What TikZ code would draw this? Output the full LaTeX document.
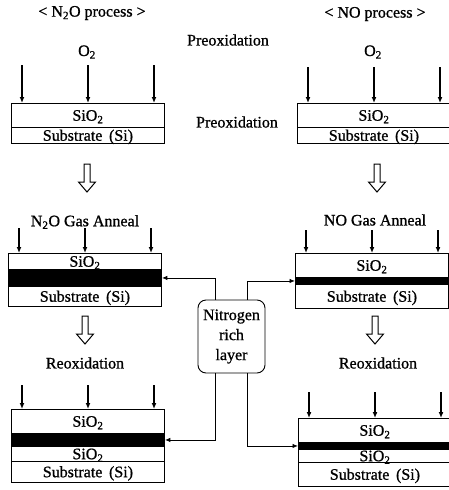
\documentclass[tikz,border=0pt]{standalone}
\usepackage{fontspec}
\setmainfont{Liberation Serif}[BoldFont=Liberation Serif, BoldFeatures={FakeBold=0.9}]
\usetikzlibrary{positioning,arrows.meta}
\tikzset{
  layer/.style={draw, line width=0.9pt, anchor=north west, inner sep=0pt, minimum width=153pt, text height=10.5pt, text depth=0pt, align=center},
  nband/.style={layer, fill=black},
  gasarrow/.style={-{Latex[length=6pt,width=5pt]}, line width=1.3pt},
  nlink/.style={-{Latex[length=5.5pt,width=4.5pt]}, line width=0.9pt},
  richbox/.style={draw, line width=0.9pt, rounded corners=8pt, minimum width=67pt, minimum height=73pt, align=center, inner sep=1pt},
  hollowarrow/.pic={\draw[line width=1pt, line join=miter] (-3,0) -- (-3,18) -- (-8.5,18) -- (0,28) -- (8.5,18) -- (3,18) -- (3,0) -- cycle;}
}

\begin{document}
\begin{tikzpicture}[x=1pt, y=-1pt, every node/.style={font=\fontsize{16}{20}\selectfont\bfseries}]
  \useasboundingbox (0,0) rectangle (449,490);
  % titles
  \node (titleL) at (92,13) {< N\textsubscript{2}O process >};
  \node (titleR) at (375,14) {< NO process >};
  \node (preox1) at (228,40) {Preoxidation};
  \node (preox2) at (237,122) {Preoxidation};
  \node (o2L) at (87,52) {O\textsubscript{2}};
  \node (o2R) at (373,52) {O\textsubscript{2}};

  % preoxidation stacks
  \node[layer, minimum height=24pt] (topL-ox) at (11,103) {SiO\textsubscript{2}};
  \node[layer, minimum height=16pt] (topL-sub) at (11,127) {Substrate\, (Si)};
  \node[layer, minimum height=24pt] (topR-ox) at (297,103) {SiO\textsubscript{2}};
  \node[layer, minimum height=16pt] (topR-sub) at (297,127) {Substrate\, (Si)};

  \pic (downL1) at (87,164) {hollowarrow};
  \pic (downR1) at (377,164) {hollowarrow};

  % gas anneal
  \node (annealL) at (85,222) {N\textsubscript{2}O Gas Anneal};
  \node (annealR) at (375,220) {NO Gas Anneal};
  \node[layer, minimum height=16pt] (annL-ox) at (8,253) {SiO\textsubscript{2}};
  \node[nband, minimum height=17pt] (annL-n) at (8,269) {};
  \node[layer, minimum height=20pt] (annL-sub) at (8,286) {Substrate\, (Si)};
  \node[layer, minimum height=24pt] (annR-ox) at (295,253) {SiO\textsubscript{2}};
  \node[nband, minimum height=7pt, text height=0pt] (annR-n) at (295,277) {};
  \node[layer, minimum height=24pt] (annR-sub) at (295,284) {Substrate\, (Si)};

  \pic (downL2) at (85,316) {hollowarrow};
  \pic (downR2) at (375,316) {hollowarrow};

  % reoxidation
  \node (reoxL) at (85,363) {Reoxidation};
  \node (reoxR) at (378,363) {Reoxidation};
  \node[layer, minimum height=24pt] (reoL-ox) at (11,409) {SiO\textsubscript{2}};
  \node[nband, minimum height=13pt, text height=0pt] (reoL-n) at (11,433) {};
  \node[layer, minimum height=15pt] (reoL-ox2) at (11,446) {SiO\textsubscript{2}};
  \node[layer, minimum height=21pt] (reoL-sub) at (11,461) {Substrate\, (Si)};
  \node[layer, minimum height=24pt] (reoR-ox) at (298,418) {SiO\textsubscript{2}};
  \node[nband, minimum height=7pt, text height=0pt] (reoR-n) at (298,442) {};
  \node[layer, minimum height=13pt] (reoR-ox2) at (298,449) {SiO\textsubscript{2}};
  \node[layer, minimum height=24pt] (reoR-sub) at (298,462) {Substrate\, (Si)};

  % gas arrows onto the top oxide
  \foreach \b/\len in {topL-ox/38, topR-ox/36, annL-ox/25, annR-ox/23, reoL-ox/24, reoR-ox/26}
    \foreach \dx in {11,77,143}
      \draw[gasarrow] ([xshift=\dx pt, yshift=\len pt]\b.north west) -- ([xshift=\dx pt]\b.north west);

  % nitrogen rich layer
  \node[richbox] (nrich) at (231.5,336.5) {Nitrogen\\rich\\layer};
  \draw[nlink] ([xshift=-16.5pt]nrich.north) |- (annL-n.east);
  \draw[nlink] ([xshift=15.5pt]nrich.north) |- (annR-n.west);
  \draw[nlink] ([xshift=-16.5pt]nrich.south) |- (reoL-n.east);
  \draw[nlink] ([xshift=15.5pt]nrich.south) |- (reoR-n.west);
\end{tikzpicture}
\end{document}
